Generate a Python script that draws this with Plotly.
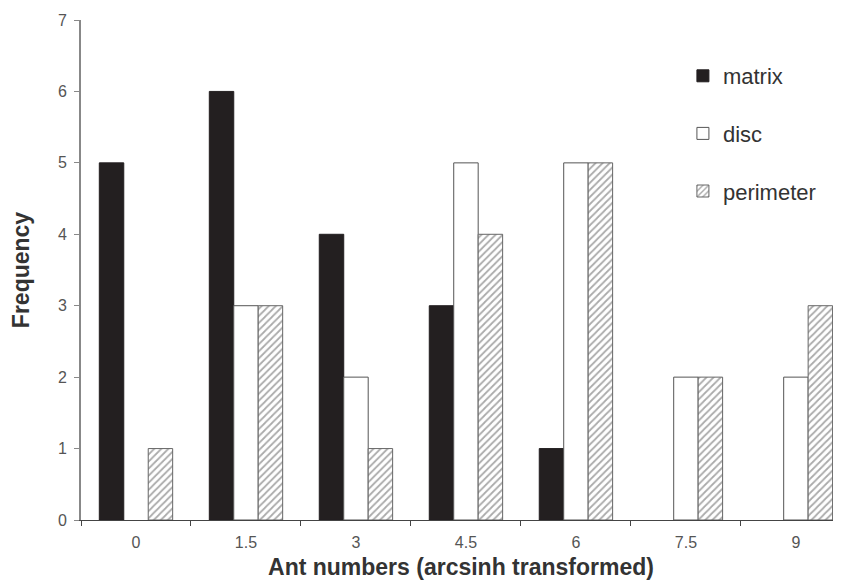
import plotly.graph_objects as go

categories = ["0", "1.5", "3", "4.5", "6", "7.5", "9"]
matrix = [5, 6, 4, 3, 1, 0, 0]
disc = [0, 3, 2, 5, 5, 2, 2]
perimeter = [1, 3, 1, 4, 5, 2, 3]
y_ticks = [0, 1, 2, 3, 4, 5, 6, 7]


def nz(vals):
    return [v if v else None for v in vals]


fig = go.Figure()
fig.add_trace(go.Bar(x=categories, y=nz(matrix), name="matrix", legendgroup="a",
                     marker=dict(color="#231f20", line=dict(color="#231f20", width=1))))
fig.add_trace(go.Bar(x=categories, y=nz(disc), name="disc", legendgroup="b",
                     marker=dict(color="white", line=dict(color="#555555", width=1))))
fig.add_trace(go.Bar(x=categories, y=nz(perimeter), name="perimeter", legendgroup="c",
                     marker=dict(color="white", line=dict(color="#666666", width=1),
                                 pattern=dict(shape="/", fgcolor="#555555", bgcolor="white",
                                              size=5, solidity=0.35))))

fig.update_layout(
    width=833, height=573,
    margin=dict(l=73, r=0, t=12, b=61),
    plot_bgcolor="white", paper_bgcolor="white",
    barmode="group", bargap=0.333, bargroupgap=0,
    font=dict(family="Liberation Sans, Arial, sans-serif", color="#444444"),
    showlegend=True,
    legend=dict(x=0.792, y=0.93, xanchor="left", yanchor="top",
                font=dict(size=22, color="#333333"), tracegroupgap=26,
                itemwidth=30, bgcolor="rgba(0,0,0,0)"),
    xaxis=dict(type="category", range=[-0.5, 6.41], tickson="boundaries",
               ticks="outside", ticklen=5, tickcolor="#444444",
               showline=True, linecolor="#444444", linewidth=1,
               tickfont=dict(size=16, color="#555555"), ticklabelstandoff=8,
               title=dict(text="<b>Ant numbers (arcsinh transformed)</b>", standoff=8,
                          font=dict(size=23, color="#333333")),
               showgrid=False, zeroline=False),
    yaxis=dict(range=[0, 7], tickvals=y_ticks, ticks="outside", ticklen=5,
               tickcolor="#888888", showline=True, linecolor="#888888", linewidth=2,
               tickfont=dict(size=16, color="#555555"), ticklabelstandoff=4,
               title=dict(text="<b>Frequency</b>", standoff=22,
                          font=dict(size=23, color="#333333")),
               showgrid=False, zeroline=False),
)

fig.write_html("out.html")
